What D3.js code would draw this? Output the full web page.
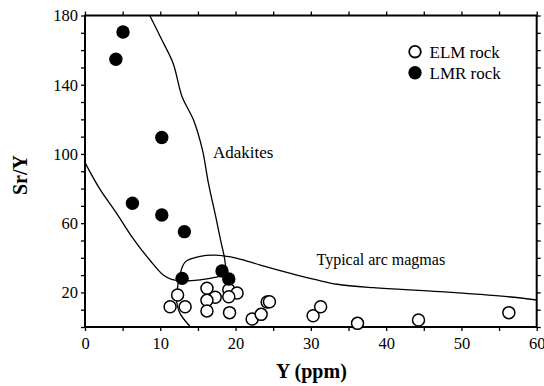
<!DOCTYPE html>
<html>
<head>
<meta charset="utf-8">
<script src="https://cdn.jsdelivr.net/npm/d3@7"></script>
<style>
  body { margin: 0; background: #fff; }
  svg text { font-family: "Liberation Serif", "Times New Roman", serif !important; fill: #000; }
</style>
</head>
<body>
<div id="chart"></div>
<script>
// ELM rock (open circles): [Y ppm, Sr/Y]
const elmY  = [12.3, 11.3, 13.3, 16.2, 17.3, 16.2, 16.2, 19.1, 20.2, 19.1, 19.2, 22.2, 23.4, 24.2, 24.5, 30.3, 31.3, 36.2, 44.3, 56.3];
const elmSr = [18.5, 11.7, 11.7, 22.4, 17.2, 15.4,  9.3, 21.5, 19.6, 17.5,  8.3,  4.6,  7.3, 14.4, 14.6,  6.5, 11.7,  2.1,  4.0,  8.3];

// LMR rock (filled circles)
const lmrY  = [5.05, 4.1, 10.2, 6.3, 10.2, 13.2, 12.9, 18.2, 19.1];
const lmrSr = [170.5, 154.7, 109.5, 71.5, 64.7, 55.1, 28.1, 32.4, 27.7];

// field boundaries
const adakLowerY  = [0, 2.0, 4.2, 6.3, 8.6, 10.4, 11.5, 12.9, 15.3, 17.6, 18.8];
const adakLowerSr = [95, 79.5, 65.7, 51.7, 38.7, 30, 27.5, 26.6, 27.2, 29, 30.5];
const adakRightY  = [18.8, 18.5, 18.0, 17.4, 16.4, 15.6, 14.4, 12.9, 11.7, 10.2, 8.6];
const adakRightSr = [30.5, 40.6, 50.3, 63, 83, 102.3, 119.7, 133, 152.4, 166, 180];
const arcY  = [14, 12.6, 12.2, 12.3, 12.6, 13.3, 15.3, 17.3, 20.2, 23.3, 27.3, 30.8, 33.5, 38.3, 47.2, 56.1, 60];
const arcSr = [0, 8, 14, 23, 30, 37.5, 40.8, 41.5, 39.7, 35.8, 31, 27.2, 24.7, 22.7, 20.4, 17.5, 15.6];

const width = 544, height = 386;
const margin = { top: 15.5, right: 7.3, bottom: 59, left: 85 };
const serif = '"Liberation Serif", "Times New Roman", serif';

const svg = d3.select('#chart').append('svg')
  .attr('width', width)
  .attr('height', height);

const x = d3.scaleLinear().domain([0, 60]).range([margin.left, width - margin.right]);
const y = d3.scaleLinear().domain([0, 180]).range([height - margin.bottom, margin.top]);

// axes
const xb = svg.append('g')
  .attr('transform', `translate(0,${y(0)})`)
  .call(d3.axisBottom(x).tickValues(d3.range(0, 61, 5)).tickSize(4).tickSizeOuter(0)
    .tickFormat(d => d % 10 === 0 ? d : ''));
const yl = svg.append('g')
  .attr('transform', `translate(${x(0)},0)`)
  .call(d3.axisLeft(y).tickValues(d3.range(0, 181, 10)).tickSize(4).tickSizeOuter(0)
    .tickFormat(d => (d - 20) % 40 === 0 ? d : ''));
const xt = svg.append('g')
  .attr('transform', `translate(0,${y(180)})`)
  .call(d3.axisTop(x).tickValues(d3.range(0, 61, 5)).tickSize(4).tickSizeOuter(0).tickFormat(''));
const yr = svg.append('g')
  .attr('transform', `translate(${x(60)},0)`)
  .call(d3.axisRight(y).tickValues(d3.range(0, 181, 10)).tickSize(4).tickSizeOuter(0).tickFormat(''));

[xb, yl, xt, yr].forEach(g => {
  g.attr('font-family', serif);
  g.select('.domain').remove();
  g.selectAll('line').attr('stroke', '#000').attr('stroke-width', 1.3);
  g.selectAll('text').attr('font-size', 16.5).style('font-family', serif).attr('fill', '#000');
});
xb.selectAll('text').attr('y', 10);
yl.selectAll('text').attr('x', -7);

// frame
svg.append('rect')
  .attr('x', x(0)).attr('y', y(180))
  .attr('width', x(60) - x(0)).attr('height', y(0) - y(180))
  .attr('fill', 'none').attr('stroke', '#000').attr('stroke-width', 2);

// boundary curves
const line = d3.line().x(d => x(d[0])).y(d => y(d[1])).curve(d3.curveCatmullRom.alpha(0.5));
const curves = [
  d3.zip(adakLowerY, adakLowerSr),
  d3.zip(adakRightY, adakRightSr),
  d3.zip(arcY, arcSr)
];
svg.append('g').selectAll('path')
  .data(curves)
  .enter().append('path')
  .attr('d', line)
  .attr('fill', 'none')
  .attr('stroke', '#000')
  .attr('stroke-width', 1.3);

// field labels
svg.append('text').attr('x', 213).attr('y', 158).attr('font-size', 17).style('font-family', serif).text('Adakites');
svg.append('text').attr('x', 316.5).attr('y', 265).attr('font-size', 16).style('font-family', serif).text('Typical arc magmas');

// points
svg.append('g').selectAll('circle')
  .data(d3.zip(elmY, elmSr))
  .enter().append('circle')
  .attr('cx', d => x(d[0])).attr('cy', d => y(d[1]))
  .attr('r', 6)
  .attr('fill', '#fff').attr('stroke', '#000').attr('stroke-width', 1.5);

svg.append('g').selectAll('circle')
  .data(d3.zip(lmrY, lmrSr))
  .enter().append('circle')
  .attr('cx', d => x(d[0])).attr('cy', d => y(d[1]))
  .attr('r', 6.7)
  .attr('fill', '#000');

// legend
const legend = svg.append('g');
legend.append('circle').attr('cx', 415).attr('cy', 51.7).attr('r', 5.8)
  .attr('fill', '#fff').attr('stroke', '#000').attr('stroke-width', 1.8);
legend.append('text').attr('x', 429.5).attr('y', 57.5).attr('font-size', 17).style('font-family', serif).text('ELM rock');
legend.append('circle').attr('cx', 415).attr('cy', 72.7).attr('r', 6.7).attr('fill', '#000');
legend.append('text').attr('x', 429.5).attr('y', 78.5).attr('font-size', 17).style('font-family', serif).text('LMR rock');

// axis titles
svg.append('text')
  .attr('x', (x(0) + x(60)) / 2 + 0.5).attr('y', 378)
  .attr('text-anchor', 'middle').attr('font-weight', 'bold').attr('font-size', 20)
  .style('font-family', serif)
  .text('Y (ppm)');
svg.append('text')
  .attr('transform', 'translate(27,175) rotate(-90)')
  .attr('text-anchor', 'middle').attr('font-weight', 'bold').attr('font-size', 20)
  .style('font-family', serif)
  .text('Sr/Y');
</script>
</body>
</html>
